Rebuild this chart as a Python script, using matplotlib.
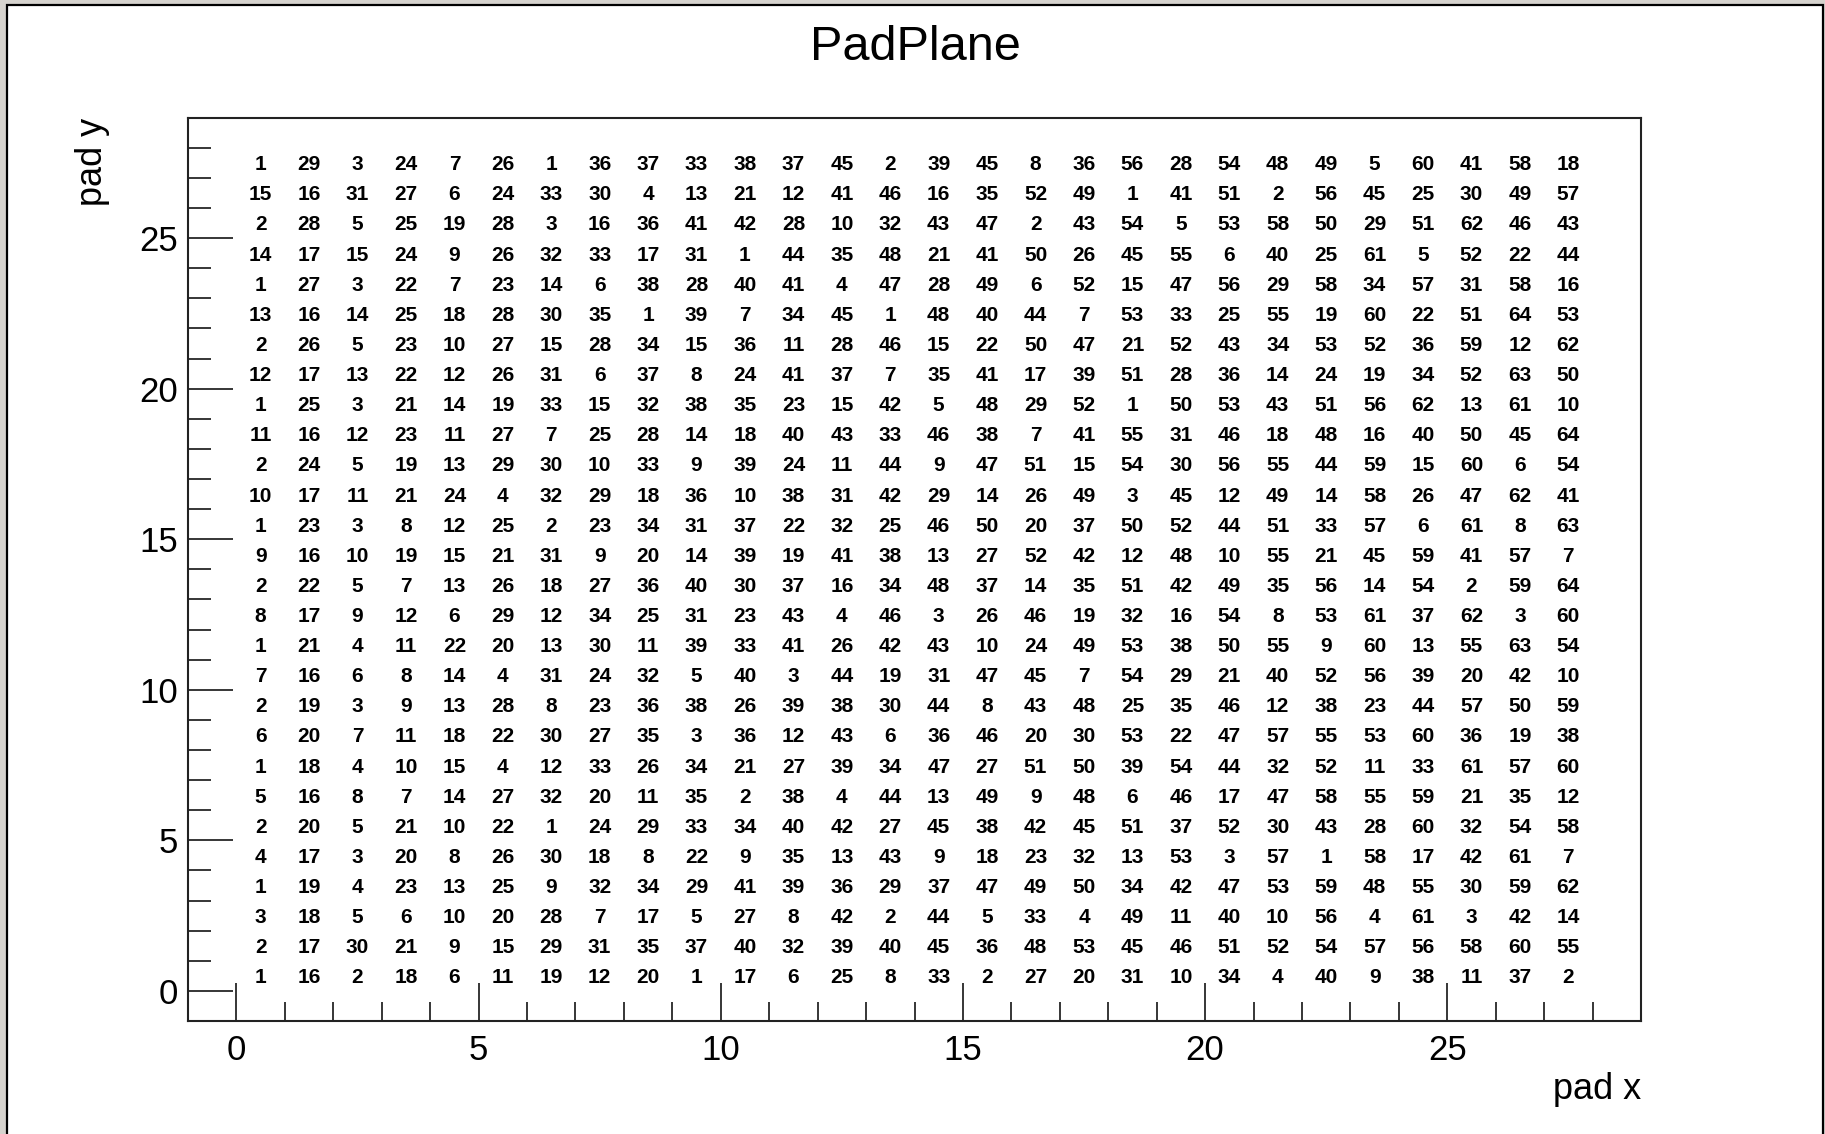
import matplotlib.pyplot as plt
from matplotlib.patches import Rectangle
from matplotlib.ticker import MultipleLocator

plt.rcParams['font.family'] = ['Liberation Sans', 'DejaVu Sans']

# pad numbers, one list per pad row, top row (pad y = 27) first
pad_numbers = [
    [1, 29, 3, 24, 7, 26, 1, 36, 37, 33, 38, 37, 45, 2, 39, 45, 8, 36, 56, 28, 54, 48, 49, 5, 60, 41, 58, 18],
    [15, 16, 31, 27, 6, 24, 33, 30, 4, 13, 21, 12, 41, 46, 16, 35, 52, 49, 1, 41, 51, 2, 56, 45, 25, 30, 49, 57],
    [2, 28, 5, 25, 19, 28, 3, 16, 36, 41, 42, 28, 10, 32, 43, 47, 2, 43, 54, 5, 53, 58, 50, 29, 51, 62, 46, 43],
    [14, 17, 15, 24, 9, 26, 32, 33, 17, 31, 1, 44, 35, 48, 21, 41, 50, 26, 45, 55, 6, 40, 25, 61, 5, 52, 22, 44],
    [1, 27, 3, 22, 7, 23, 14, 6, 38, 28, 40, 41, 4, 47, 28, 49, 6, 52, 15, 47, 56, 29, 58, 34, 57, 31, 58, 16],
    [13, 16, 14, 25, 18, 28, 30, 35, 1, 39, 7, 34, 45, 1, 48, 40, 44, 7, 53, 33, 25, 55, 19, 60, 22, 51, 64, 53],
    [2, 26, 5, 23, 10, 27, 15, 28, 34, 15, 36, 11, 28, 46, 15, 22, 50, 47, 21, 52, 43, 34, 53, 52, 36, 59, 12, 62],
    [12, 17, 13, 22, 12, 26, 31, 6, 37, 8, 24, 41, 37, 7, 35, 41, 17, 39, 51, 28, 36, 14, 24, 19, 34, 52, 63, 50],
    [1, 25, 3, 21, 14, 19, 33, 15, 32, 38, 35, 23, 15, 42, 5, 48, 29, 52, 1, 50, 53, 43, 51, 56, 62, 13, 61, 10],
    [11, 16, 12, 23, 11, 27, 7, 25, 28, 14, 18, 40, 43, 33, 46, 38, 7, 41, 55, 31, 46, 18, 48, 16, 40, 50, 45, 64],
    [2, 24, 5, 19, 13, 29, 30, 10, 33, 9, 39, 24, 11, 44, 9, 47, 51, 15, 54, 30, 56, 55, 44, 59, 15, 60, 6, 54],
    [10, 17, 11, 21, 24, 4, 32, 29, 18, 36, 10, 38, 31, 42, 29, 14, 26, 49, 3, 45, 12, 49, 14, 58, 26, 47, 62, 41],
    [1, 23, 3, 8, 12, 25, 2, 23, 34, 31, 37, 22, 32, 25, 46, 50, 20, 37, 50, 52, 44, 51, 33, 57, 6, 61, 8, 63],
    [9, 16, 10, 19, 15, 21, 31, 9, 20, 14, 39, 19, 41, 38, 13, 27, 52, 42, 12, 48, 10, 55, 21, 45, 59, 41, 57, 7],
    [2, 22, 5, 7, 13, 26, 18, 27, 36, 40, 30, 37, 16, 34, 48, 37, 14, 35, 51, 42, 49, 35, 56, 14, 54, 2, 59, 64],
    [8, 17, 9, 12, 6, 29, 12, 34, 25, 31, 23, 43, 4, 46, 3, 26, 46, 19, 32, 16, 54, 8, 53, 61, 37, 62, 3, 60],
    [1, 21, 4, 11, 22, 20, 13, 30, 11, 39, 33, 41, 26, 42, 43, 10, 24, 49, 53, 38, 50, 55, 9, 60, 13, 55, 63, 54],
    [7, 16, 6, 8, 14, 4, 31, 24, 32, 5, 40, 3, 44, 19, 31, 47, 45, 7, 54, 29, 21, 40, 52, 56, 39, 20, 42, 10],
    [2, 19, 3, 9, 13, 28, 8, 23, 36, 38, 26, 39, 38, 30, 44, 8, 43, 48, 25, 35, 46, 12, 38, 23, 44, 57, 50, 59],
    [6, 20, 7, 11, 18, 22, 30, 27, 35, 3, 36, 12, 43, 6, 36, 46, 20, 30, 53, 22, 47, 57, 55, 53, 60, 36, 19, 38],
    [1, 18, 4, 10, 15, 4, 12, 33, 26, 34, 21, 27, 39, 34, 47, 27, 51, 50, 39, 54, 44, 32, 52, 11, 33, 61, 57, 60],
    [5, 16, 8, 7, 14, 27, 32, 20, 11, 35, 2, 38, 4, 44, 13, 49, 9, 48, 6, 46, 17, 47, 58, 55, 59, 21, 35, 12],
    [2, 20, 5, 21, 10, 22, 1, 24, 29, 33, 34, 40, 42, 27, 45, 38, 42, 45, 51, 37, 52, 30, 43, 28, 60, 32, 54, 58],
    [4, 17, 3, 20, 8, 26, 30, 18, 8, 22, 9, 35, 13, 43, 9, 18, 23, 32, 13, 53, 3, 57, 1, 58, 17, 42, 61, 7],
    [1, 19, 4, 23, 13, 25, 9, 32, 34, 29, 41, 39, 36, 29, 37, 47, 49, 50, 34, 42, 47, 53, 59, 48, 55, 30, 59, 62],
    [3, 18, 5, 6, 10, 20, 28, 7, 17, 5, 27, 8, 42, 2, 44, 5, 33, 4, 49, 11, 40, 10, 56, 4, 61, 3, 42, 14],
    [2, 17, 30, 21, 9, 15, 29, 31, 35, 37, 40, 32, 39, 40, 45, 36, 48, 53, 45, 46, 51, 52, 54, 57, 56, 58, 60, 55],
    [1, 16, 2, 18, 6, 11, 19, 12, 20, 1, 17, 6, 25, 8, 33, 2, 27, 20, 31, 10, 34, 4, 40, 9, 38, 11, 37, 2],
]

x_range = (-1, 29)
y_range = (-1, 29)

fig = plt.figure(figsize=(18.25, 11.34), dpi=100, facecolor='#d6d3ce')

# white canvas with dark frame (ROOT window look)
fig.patches.append(Rectangle((7 / 1825, -0.01), 1816 / 1825, 1 - 5 / 1134 + 0.01,
                             transform=fig.transFigure, facecolor='white',
                             edgecolor='black', linewidth=1.6, zorder=-1))

ax = fig.add_axes([188 / 1825, 1 - 1021 / 1134, 1453 / 1825, 903.4 / 1134])
ax.set_facecolor('white')

n_rows = len(pad_numbers)
for r, row in enumerate(pad_numbers):
    iy = n_rows - 1 - r
    for ix, val in enumerate(row):
        if val == 0:
            continue
        ax.text(ix + 0.5, iy + 0.5, str(val), ha='center', va='center_baseline',
                fontsize=15, fontweight='bold', color='black')

ax.set_xlim(*x_range)
ax.set_ylim(*y_range)

ax.xaxis.set_major_locator(MultipleLocator(5))
ax.xaxis.set_minor_locator(MultipleLocator(1))
ax.yaxis.set_major_locator(MultipleLocator(5))
ax.yaxis.set_minor_locator(MultipleLocator(1))

ax.tick_params(axis='x', which='major', direction='in', length=27.4, width=1.1,
               labelsize=25, pad=9.5, top=False)
ax.tick_params(axis='x', which='minor', direction='in', length=13.7, width=1.1, top=False)
ax.tick_params(axis='y', which='major', direction='in', length=32.4, width=1.1,
               labelsize=25, pad=7, right=False)
ax.tick_params(axis='y', which='minor', direction='in', length=16.6, width=1.1, right=False)

for sp in ax.spines.values():
    sp.set_linewidth(1.5)
    sp.set_color('#222222')

ax.set_xlabel('pad x', fontsize=26, loc='right')
ax.xaxis.set_label_coords(1.0, -0.0565)
ax.set_ylabel('pad y', fontsize=26, loc='top')
ax.yaxis.set_label_coords(-0.0537, 1.0)

fig.text(0.5014, 1 - 60 / 1134, 'PadPlane', ha='center', va='baseline', fontsize=35)

fig.savefig('out.png', dpi=100, facecolor=fig.get_facecolor())
